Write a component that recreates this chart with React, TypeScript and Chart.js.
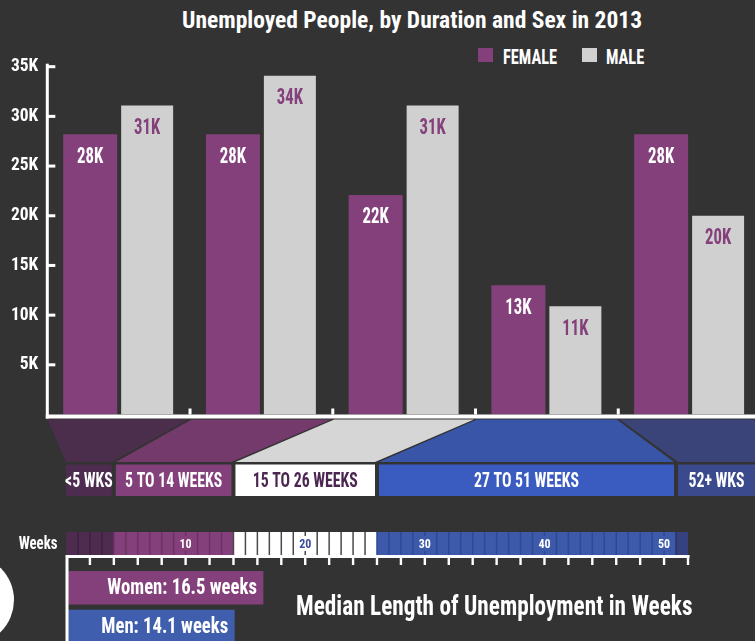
import React, { useEffect, useRef } from "react";
import { Chart, registerables } from "chart.js";

Chart.register(...registerables);

// ---------- data ----------
const durationCategories = ["<5 WKS", "5 TO 14 WEEKS", "15 TO 26 WEEKS", "27 TO 51 WEEKS", "52+ WKS"];
const femaleThousands = [28.2, 28.2, 22.1, 13.0, 28.2];
const maleThousands = [31.1, 34.1, 31.1, 10.9, 20.0];
const yTickStepK = 5;
const yMaxK = 35;
const weekRangeStarts = [0, 4, 14, 26, 51];
const weekRangeEnds = [4, 14, 26, 51, 52];
const weekScaleMax = 52;
const weekTickLabels = [10, 20, 30, 40, 50];
const medianGroups = ["Women", "Men"];
const medianWeeks = [16.5, 14.1];

// ---------- styles ----------
const FONT = "'Roboto Condensed', 'Open Sans Condensed', 'Liberation Sans', sans-serif";
const BG = "#333333";
const PURPLE = "#84407A";
const GRAY = "#D0D0D0";
const BLUE_MEN = "#3F5FAE";
const trapColors = ["#4A2E4B", "#733A6B", "#D6D6D6", "#3955A8", "#3A4478"];
const boxColors = ["#4E2C50", "#84407A", "#FFFFFF", "#3A5BBF", "#3B4A8C"];
const boxTextColors = ["#FFFFFF", "#FFFFFF", "#4A2650", "#FFFFFF", "#FFFFFF"];
const cellColors = ["#4E2C50", "#84407A", "#FFFFFF", "#3D5AAA", "#36427F"];
const cellSepColors = ["#3D2140", "#6C3264", "#4A4A4A", "#2D4894", "#2B3468"];
const cellLabelColors = ["#FFFFFF", "#FFFFFF", "#3A4C9C", "#FFFFFF", "#FFFFFF"];

const W = 755;
const H = 641;
const MAIN_W = 761;
const MAIN_H = 460;
const PLOT_TOP = 66.7;
const PLOT_BOTTOM = 414.5;

function drawNarrow(ctx: any, text: string, x: number, y: number, sx: number, align: string) {
  ctx.save();
  ctx.translate(x, y);
  ctx.scale(sx, 1);
  ctx.textAlign = align;
  ctx.fillText(text, 0, 0);
  ctx.restore();
}

export default function App() {
  const mainRef = useRef<HTMLCanvasElement | null>(null);
  const lowRef = useRef<HTMLCanvasElement | null>(null);

  useEffect(() => {
    if (!mainRef.current || !lowRef.current) return;
    const n = durationCategories.length;

    const mainPlugin = {
      id: "mainDecor",
      afterDatasetsDraw(chart: any) {
        const ctx = chart.ctx;
        const xs = chart.scales.x;
        const ys = chart.scales.y;
        const area = chart.chartArea;
        ctx.save();
        ctx.font = `700 22px ${FONT}`;
        ctx.textBaseline = "middle";
        chart.data.datasets.forEach((ds: any, di: number) => {
          const meta = chart.getDatasetMeta(di);
          meta.data.forEach((bar: any, j: number) => {
            ctx.fillStyle = di === 0 ? "#FFFFFF" : PURPLE;
            drawNarrow(ctx, Math.round(ds.data[j]) + "K", bar.x, bar.y + 23, 0.76, "center");
          });
        });
        ctx.fillStyle = "#FFFFFF";
        const y0 = ys.getPixelForValue(0);
        // y axis line
        ctx.fillRect(area.left - 1.5, area.top - 3, 3, y0 - area.top + 7);
        // y tick marks (inward)
        ys.ticks.forEach((t: any) => {
          if (t.value > 0) {
            const py = ys.getPixelForValue(t.value);
            ctx.fillRect(area.left, py - 1.5, 8, 3);
          }
        });
        // x axis line
        ctx.fillRect(area.left - 1.5, y0, chart.width, 4);
        // category boundary ticks
        const cw = (area.right - area.left) / n;
        for (let i = 1; i < n; i++) {
          const px = xs.getPixelForValue(i) - cw / 2;
          ctx.fillRect(px - 1.5, y0 - 6, 3, 6);
        }
        ctx.restore();
      },
    };

    const mainOptions: any = {
      responsive: false,
      animation: false,
      events: [],
      layout: { padding: { top: PLOT_TOP, bottom: MAIN_H - PLOT_BOTTOM, left: 0, right: 0 } },
      scales: {
        x: { display: false },
        y: {
          min: 0,
          max: yMaxK,
          afterFit: (s: any) => {
            s.width = 47.3;
          },
          ticks: {
            stepSize: yTickStepK,
            padding: 9,
            color: "#FFFFFF",
            font: { family: FONT, weight: "bold", size: 17.5 },
            callback: (v: any) => (v === 0 ? "" : v + "K"),
          },
          grid: { display: false, drawTicks: false },
          border: { display: false },
        },
      },
      plugins: { legend: { display: false }, tooltip: { enabled: false } },
    };

    const main = new Chart(mainRef.current, {
      type: "bar",
      data: {
        labels: durationCategories,
        datasets: [
          { label: "FEMALE", data: femaleThousands, backgroundColor: PURPLE, barPercentage: 0.948, categoryPercentage: 0.798 },
          { label: "MALE", data: maleThousands, backgroundColor: GRAY, barPercentage: 0.913, categoryPercentage: 0.798 },
        ],
      },
      options: mainOptions,
      plugins: [mainPlugin],
    } as any);

    const lowerPlugin = {
      id: "lowerDecor",
      afterDatasetsDraw(chart: any) {
        const ctx = chart.ctx;
        const xs = chart.scales.x;
        const wx = (v: number) => xs.getPixelForValue(v);
        const mx = main.scales.x as any;
        const ma = main.chartArea;
        const cw = (ma.right - ma.left) / n;
        const bound = (i: number) => (i < n ? mx.getPixelForValue(i) - cw / 2 : mx.getPixelForValue(n - 1) + cw / 2);
        ctx.save();

        // trapezoids + duration boxes
        const trapTop = 419.5;
        const trapBot = 462;
        const boxTop = 464.5;
        const boxBot = 496;
        for (let i = 0; i < n; i++) {
          const bl = wx(weekRangeStarts[i]) + (weekRangeStarts[i] > 0 ? 2 : 0);
          const br = i === n - 1 ? chart.width + 20 : wx(weekRangeEnds[i]) - 2;
          const tl = bound(i) + (i > 0 ? 1.5 : 0);
          const tr = i === n - 1 ? chart.width + 20 : bound(i + 1) - 1.5;
          ctx.fillStyle = trapColors[i];
          ctx.beginPath();
          ctx.moveTo(tl, trapTop);
          ctx.lineTo(tr, trapTop);
          ctx.lineTo(br, trapBot);
          ctx.lineTo(bl, trapBot);
          ctx.closePath();
          ctx.fill();
          ctx.fillStyle = boxColors[i];
          ctx.fillRect(bl, boxTop, br - bl, boxBot - boxTop);
          ctx.fillStyle = boxTextColors[i];
          ctx.font = `700 21px ${FONT}`;
          ctx.textBaseline = "middle";
          const cx = i === n - 1 ? (bl + W) / 2 : (bl + br) / 2;
          drawNarrow(ctx, durationCategories[i], cx, (boxTop + boxBot) / 2 + 1, 0.75, "center");
        }

        // week cells
        const cellTop = 532;
        const cellBot = 555;
        for (let r = 0; r < weekRangeStarts.length; r++) {
          const a = wx(weekRangeStarts[r]);
          const b = wx(weekRangeEnds[r]);
          ctx.fillStyle = cellColors[r];
          ctx.fillRect(a, cellTop, b - a, cellBot - cellTop);
          ctx.fillStyle = cellSepColors[r];
          for (let k = weekRangeStarts[r] + 1; k < weekRangeEnds[r]; k++) {
            ctx.fillRect(wx(k) - 0.75, cellTop, 1.5, cellBot - cellTop);
          }
          if (r > 0) {
            ctx.fillRect(a - 0.75, cellTop, 1.5, cellBot - cellTop);
          }
        }
        ctx.font = `700 12px ${FONT}`;
        ctx.textAlign = "center";
        ctx.textBaseline = "middle";
        weekTickLabels.forEach((v) => {
          let r = 0;
          for (let q = 0; q < weekRangeStarts.length; q++) if (v >= weekRangeStarts[q] && v < weekRangeEnds[q]) r = q;
          ctx.fillStyle = cellColors[r];
          ctx.fillRect(wx(v) - 7, cellTop + 4, 14, cellBot - cellTop - 8);
          ctx.fillStyle = cellLabelColors[r];
          ctx.fillText(String(v), wx(v), (cellTop + cellBot) / 2 + 1);
        });
        ctx.fillStyle = "#FFFFFF";
        ctx.font = `700 18.5px ${FONT}`;
        drawNarrow(ctx, "Weeks", wx(0) - 8.5, (cellTop + cellBot) / 2 + 0.5, 0.8, "right");

        // week axis line + ticks
        ctx.fillStyle = "#FFFFFF";
        ctx.fillRect(wx(0), 555, wx(weekScaleMax) - wx(0) + 1.5, 3);
        for (let k = 2; k <= weekScaleMax; k += 2) {
          ctx.fillRect(wx(k) - 1.2, 555, 2.4, 10);
        }
        ctx.fillRect(wx(0) - 0.5, 555, 3, chart.height);

        // median labels
        ctx.font = `700 22.5px ${FONT}`;
        ctx.textBaseline = "middle";
        const meta = chart.getDatasetMeta(0);
        meta.data.forEach((bar: any, j: number) => {
          ctx.fillStyle = "#FFFFFF";
          drawNarrow(ctx, `${medianGroups[j]}: ${medianWeeks[j]} weeks`, bar.x - 6.5, bar.y + 1, 0.83, "right");
        });
        ctx.restore();
      },
    };

    const low = new Chart(lowRef.current, {
      type: "bar",
      data: {
        labels: medianGroups,
        datasets: [
          {
            label: "Median weeks",
            data: medianWeeks,
            backgroundColor: [PURPLE, BLUE_MEN],
            barPercentage: 0.86,
            categoryPercentage: 1,
          },
        ],
      },
      options: {
        indexAxis: "y",
        responsive: false,
        animation: false,
        events: [],
        layout: { padding: { left: 66, right: 67, top: 568.3, bottom: 4.1 } },
        scales: {
          x: { type: "linear", min: 0, max: weekScaleMax, display: false },
          y: { display: false },
        },
        plugins: { legend: { display: false }, tooltip: { enabled: false } },
      },
      plugins: [lowerPlugin],
    } as any);

    return () => {
      low.destroy();
      main.destroy();
    };
  }, []);

  const txt = (extra: React.CSSProperties): React.CSSProperties => ({
    position: "absolute",
    color: "#FFFFFF",
    fontFamily: FONT,
    fontWeight: 700,
    whiteSpace: "nowrap",
    lineHeight: 1,
    transformOrigin: "left center",
    ...extra,
  });

  return (
    <div
      style={{
        position: "fixed",
        left: 0,
        top: 0,
        width: W,
        height: H,
        overflow: "hidden",
        background: BG,
      }}
    >
      <div style={txt({ left: 182, top: 8.5, fontSize: 23.5 })}>Unemployed People, by Duration and Sex in 2013</div>
      <div style={{ position: "absolute", left: 478, top: 48, width: 15, height: 14, background: PURPLE }} />
      <div style={txt({ left: 502.5, top: 46.8, fontSize: 20.5, transform: "scaleX(0.8)" })}>FEMALE</div>
      <div style={{ position: "absolute", left: 582, top: 48, width: 15, height: 14, background: GRAY }} />
      <div style={txt({ left: 606, top: 46.8, fontSize: 20.5, transform: "scaleX(0.8)" })}>MALE</div>
      <canvas ref={mainRef} width={MAIN_W} height={MAIN_H} style={{ position: "absolute", left: 0, top: 0 }} />
      <canvas ref={lowRef} width={755} height={650} style={{ position: "absolute", left: 0, top: 0 }} />
      <div style={txt({ left: 296, top: 593, fontSize: 27.4, transform: "scaleX(0.85)" })}>
        Median Length of Unemployment in Weeks
      </div>
      <div
        style={{
          position: "absolute",
          left: -76,
          top: 555,
          width: 90,
          height: 90,
          borderRadius: "50%",
          background: "#FFFFFF",
        }}
      />
    </div>
  );
}
